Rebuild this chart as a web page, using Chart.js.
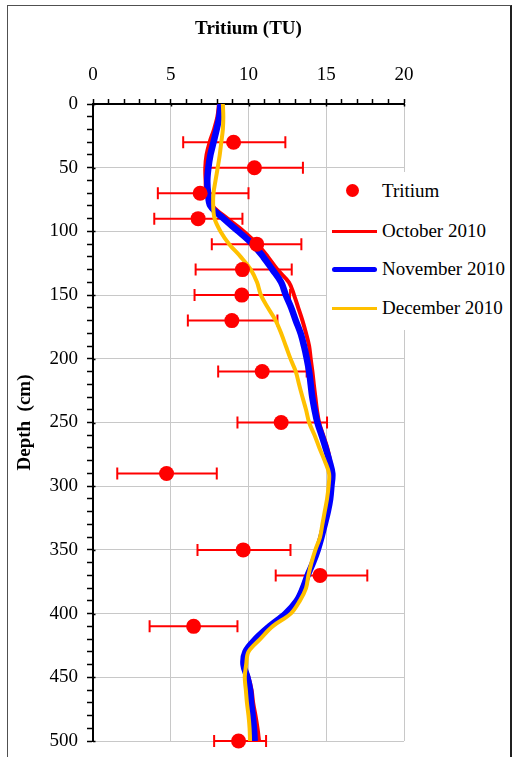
<!DOCTYPE html>
<html>
<head>
<meta charset="utf-8">
<script src="https://cdn.jsdelivr.net/npm/chart.js@4.4.1/dist/chart.umd.min.js"></script>
<style>
  html, body { margin: 0; padding: 0; background: #fff; overflow: hidden; }
  #wrap { position: relative; width: 514px; height: 757px; }
  #frame { position: absolute; left: 7px; top: 5px; width: 502px; height: 800px;
           border-left: 1px solid #505050; border-top: 1px solid #505050; border-right: 2px solid #202020; }
  canvas { position: absolute; left: 0; top: 0; }
  #legend { position: absolute; left: 327px; top: 172px; width: 182px; height: 158px; background: #fff;
            font-family: "Liberation Serif", "Times New Roman", "DejaVu Serif", serif; font-size: 19px; color: #000; }
  .lbl { position: absolute; left: 55px; height: 24px; line-height: 24px; white-space: nowrap; }
  .sw { position: absolute; left: 5px; width: 45px; }
  .dot { position: absolute; width: 13px; height: 13px; border-radius: 50%; background: #ff0000; }
</style>
</head>
<body>
<div id="wrap">
  <div id="frame"></div>
  <canvas id="c" width="514" height="757"></canvas>
  <div id="legend">
    <div class="dot" style="left:19px; top:12px;"></div>
    <div class="lbl" style="top:7px;">Tritium</div>
    <div class="sw" style="top:58px; height:3px; background:#ff0000;"></div>
    <div class="lbl" style="top:47px;">October 2010</div>
    <div class="sw" style="top:95px; height:5px; background:#0000ff; border-radius:3px;"></div>
    <div class="lbl" style="top:85px;">November 2010</div>
    <div class="sw" style="top:135px; height:3px; background:#ffc000;"></div>
    <div class="lbl" style="top:124px;">December 2010</div>
  </div>
</div>
<script>
// ---- Data ----
const profileDepth = [0,10,20,30,40,50,60,70,80,90,100,110,120,130,140,150,160,170,180,190,200,
  210,220,230,240,250,260,270,280,290,300,310,320,330,340,350,360,370,380,390,400,
  410,420,430,440,450,460,470,480,490,500];

const october2010 = [8.10,8.00,7.78,7.50,7.30,7.22,7.24,7.30,7.70,8.65,9.70,10.57,11.25,11.86,12.60,12.93,13.20,13.47,13.70,13.90,14.00,
  14.11,14.20,14.30,14.40,14.54,14.80,15.07,15.25,15.39,15.35,15.27,15.10,14.90,14.65,14.40,14.10,13.75,13.45,13.05,12.35,
  11.30,10.40,9.80,9.70,10.00,10.20,10.30,10.45,10.58,10.68];

const november2010 = [8.20,8.12,7.95,7.75,7.55,7.42,7.35,7.40,7.55,8.40,9.35,10.26,10.95,11.54,12.10,12.40,12.75,13.04,13.35,13.57,13.75,
  13.90,14.00,14.10,14.25,14.43,14.70,14.96,15.20,15.39,15.33,15.25,15.10,14.90,14.69,14.45,14.15,13.80,13.50,13.10,12.38,
  11.35,10.45,9.80,9.68,9.93,10.10,10.17,10.27,10.35,10.40];

const december2010 = [8.35,8.38,8.35,8.25,8.15,8.02,7.88,7.75,7.73,7.82,8.20,8.76,9.50,10.15,10.55,10.80,11.25,11.75,12.10,12.40,12.70,
  13.04,13.25,13.47,13.70,13.90,14.25,14.56,14.90,15.18,15.15,15.05,14.90,14.75,14.60,14.30,14.05,13.85,13.70,13.30,12.72,
  11.55,10.75,10.00,9.85,9.76,9.83,9.90,10.00,10.07,10.10];

const tritiumDepth = [30,50,70,90,110,130,150,170,210,250,290,350,370,410,500];
const tritiumValue = [9.04,10.38,6.89,6.76,10.53,9.61,9.57,8.93,10.88,12.10,4.73,9.66,14.60,6.47,9.36];
const tritiumLow   = [5.80,7.26,4.17,3.94,7.64,6.60,6.53,6.10,8.05,9.29,1.56,6.72,11.75,3.64,7.79];
const tritiumHigh  = [12.37,13.50,10.00,9.61,13.40,12.78,12.67,11.86,13.74,15.05,7.96,12.70,17.64,9.29,11.13];

const xTickMajor = [0,5,10,15,20];
const yTickMajor = [0,50,100,150,200,250,300,350,400,450,500];

// ---- Build ----
const toPts = (vals, depths) => vals.map((v, i) => ({ x: v, y: depths[i] }));

Chart.defaults.font.family = '"Liberation Serif", "Times New Roman", "DejaVu Serif", serif';
Chart.defaults.color = '#000';

const errorBars = {
  id: 'errorBars',
  beforeDatasetsDraw(chart) {
    const { ctx, scales: { x, y } } = chart;
    ctx.save();
    ctx.strokeStyle = '#ff0000';
    ctx.lineWidth = 2;
    tritiumDepth.forEach((d, i) => {
      const py = y.getPixelForValue(d);
      const x1 = x.getPixelForValue(tritiumLow[i]);
      const x2 = x.getPixelForValue(tritiumHigh[i]);
      ctx.beginPath();
      ctx.moveTo(x1, py); ctx.lineTo(x2, py);
      ctx.moveTo(x1, py - 6); ctx.lineTo(x1, py + 6);
      ctx.moveTo(x2, py - 6); ctx.lineTo(x2, py + 6);
      ctx.stroke();
    });
    ctx.restore();
  }
};

const majorTicks = {
  id: 'majorTicks',
  afterDraw(chart) {
    const { ctx, scales: { x, y }, chartArea } = chart;
    ctx.save();
    ctx.strokeStyle = '#000';
    ctx.lineWidth = 1.5;
    ctx.beginPath();
    xTickMajor.forEach(v => {
      const px = Math.round(x.getPixelForValue(v)) + 0.5;
      ctx.moveTo(px, chartArea.top); ctx.lineTo(px, chartArea.top + 2.5);
    });
    yTickMajor.forEach(v => {
      const py = Math.round(y.getPixelForValue(v)) + 0.5;
      ctx.moveTo(chartArea.left, py); ctx.lineTo(chartArea.left + 2.5, py);
    });
    ctx.stroke();
    ctx.restore();
  }
};

new Chart(document.getElementById('c'), {
  type: 'scatter',
  data: {
    datasets: [
      { label: 'Tritium', data: toPts(tritiumValue, tritiumDepth), pointRadius: 7.5, pointHoverRadius: 7.5,
        pointBackgroundColor: '#ff0000', pointBorderWidth: 0, showLine: false, clip: false },
      { label: 'December 2010', data: toPts(december2010, profileDepth), showLine: true, borderColor: '#ffc000',
        borderWidth: 4, pointRadius: 0, tension: 0.35, borderJoinStyle: 'round' },
      { label: 'November 2010', data: toPts(november2010, profileDepth), showLine: true, borderColor: '#0000ff',
        borderWidth: 6.5, pointRadius: 0, tension: 0.35, borderJoinStyle: 'round' },
      { label: 'October 2010', data: toPts(october2010, profileDepth), showLine: true, borderColor: '#ff0000',
        borderWidth: 4, pointRadius: 0, tension: 0.35, borderJoinStyle: 'round' }
    ]
  },
  options: {
    responsive: false,
    animation: false,
    devicePixelRatio: 1,
    events: [],
    layout: { padding: { left: 0, top: 0, right: 110, bottom: 16 } },
    plugins: { legend: { display: false }, tooltip: { enabled: false } },
    scales: {
      x: {
        type: 'linear', position: 'top', min: 0, max: 20,
        afterFit: s => { s.height = 104; s.paddingLeft = 0; s.paddingRight = 0; },
        title: { display: true, text: 'Tritium (TU)', font: { size: 19, weight: 'bold' }, padding: { top: 18, bottom: 0 }, color: '#000' },
        ticks: { stepSize: 1, autoSkip: false, maxRotation: 0, padding: 13, font: { size: 19 }, color: '#000',
                 callback: v => (v % 5 === 0 ? String(v) : '') },
        grid: {
          color: c => (c.tick && c.tick.value % 5 === 0 && c.tick.value !== 0) ? '#c8c8c8' : 'rgba(0,0,0,0)',
          lineWidth: 1, drawTicks: true, tickLength: 5, tickColor: '#000', tickWidth: 1.5
        },
        border: { display: true, color: '#000', width: 2 }
      },
      y: {
        type: 'linear', position: 'left', min: 0, max: 500, reverse: true,
        afterFit: s => { s.width = 93; s.paddingTop = 0; s.paddingBottom = 0; },
        title: { display: true, text: 'Depth  (cm)', font: { size: 19, weight: 'bold' }, padding: { top: 14, bottom: 0 }, color: '#000' },
        ticks: { stepSize: 10, autoSkip: false, padding: 9, font: { size: 19 }, color: '#000',
                 callback: v => (v % 50 === 0 ? String(v) : '') },
        grid: {
          color: c => (c.tick && c.tick.value % 50 === 0 && c.tick.value !== 0) ? '#c8c8c8' : 'rgba(0,0,0,0)',
          lineWidth: 1, drawTicks: true, tickLength: 6, tickColor: '#000', tickWidth: 1.5
        },
        border: { display: true, color: '#000', width: 2 }
      }
    }
  },
  plugins: [errorBars, majorTicks]
});
</script>
</body>
</html>
